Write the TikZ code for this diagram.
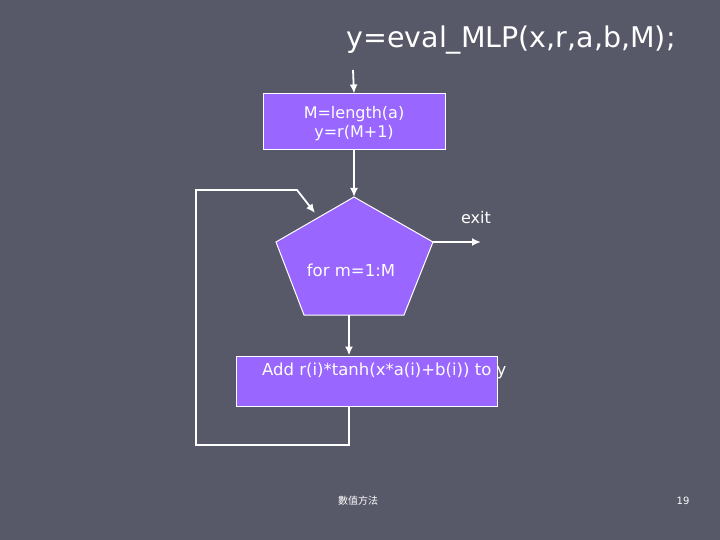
\documentclass[tikz,border=0pt]{standalone}
\usepackage{fontspec}
\setmainfont{DejaVu Sans}
\newfontfamily\cjk{Noto Sans CJK TC}
\usetikzlibrary{positioning, arrows.meta}
\definecolor{slidebg}{HTML}{575868}
\definecolor{boxfill}{HTML}{9966FF}
\tikzset{
  flow/.style={-{Latex[length=9pt,width=8pt]}, white, line width=1.8pt},
  stepbox/.style={draw=white, fill=boxfill, line width=1pt, inner sep=0pt},
  label/.style={text=white, font=\fontsize{15}{18}\selectfont}
}
\begin{document}
\begin{tikzpicture}[x=1pt, y=-1pt]
    % Background
    \fill[slidebg] (0,0) rectangle (720,540);

    % Title
    \node[text=white, font=\fontsize{28.5}{32}\selectfont] (title) at (511,40) {y=eval\_MLP(x,r,a,b,M);};

    % Init box
    \coordinate (start) at (353,70);
    \node[stepbox, minimum width=182pt, minimum height=56pt] (initbox) at (354,122) {};
    \node[label, font=\fontsize{16}{19}\selectfont, align=center] (inittxt) at (354,124)
        {M=length(a)\\y=r(M+1)};

    % Pentagon (loop test)
    \coordinate (ptop) at (354,197);
    \coordinate (pleft) at (276,242);
    \coordinate (pright) at (433,242);
    \coordinate (pbr) at (404,315);
    \coordinate (pbl) at (304,315);
    \coordinate (pbot) at (349,315);
    \fill[boxfill] (ptop) -- (pright) -- (pbr) -- (pbl) -- (pleft) -- cycle;
    \draw[white, line width=1pt] (ptop) -- (pright) -- (pbr) -- (pbl) -- (pleft) -- cycle;
    \node[label, font=\fontsize{16.5}{20}\selectfont] (fortxt) at (351,270) {for m=1:M};

    % Exit
    \coordinate (exitend) at (481,242);
    \node[label, font=\fontsize{16}{20}\selectfont] (exitlbl) at (476,218) {exit};

    % Body box
    \node[stepbox, minimum width=261pt, minimum height=50pt] (addbox) at (366.5,381) {};
    \node[label, font=\fontsize{16.5}{20}\selectfont, anchor=west, inner sep=0pt] (addtxt) at (262,371) {Add r(i)*tanh(x*a(i)+b(i)) to y};

    % Loop back
    \coordinate (loopa) at (349,445);
    \coordinate (loopb) at (196,190);
    \coordinate (loopc) at (297,190);
    \coordinate (loopend) at (315,213);

    % Connectors
    \draw[flow] (start) -- (initbox.north);
    \draw[flow] (initbox.south -| ptop) -- (ptop);
    \draw[flow] (pright) -- (exitend);
    \draw[flow] (pbot) -- (pbot |- addbox.north);
    \draw[flow] (addbox.south -| pbot) -- (loopa) -| (loopb) -- (loopc) -- (loopend);

    % Footer
    \node[text=white, font=\cjk\fontsize{10}{12}\selectfont] (footer) at (358,501) {數值方法};
    \node[text=white, font=\fontsize{10}{12}\selectfont] (pagenum) at (683,501) {19};
\end{tikzpicture}
\end{document}
